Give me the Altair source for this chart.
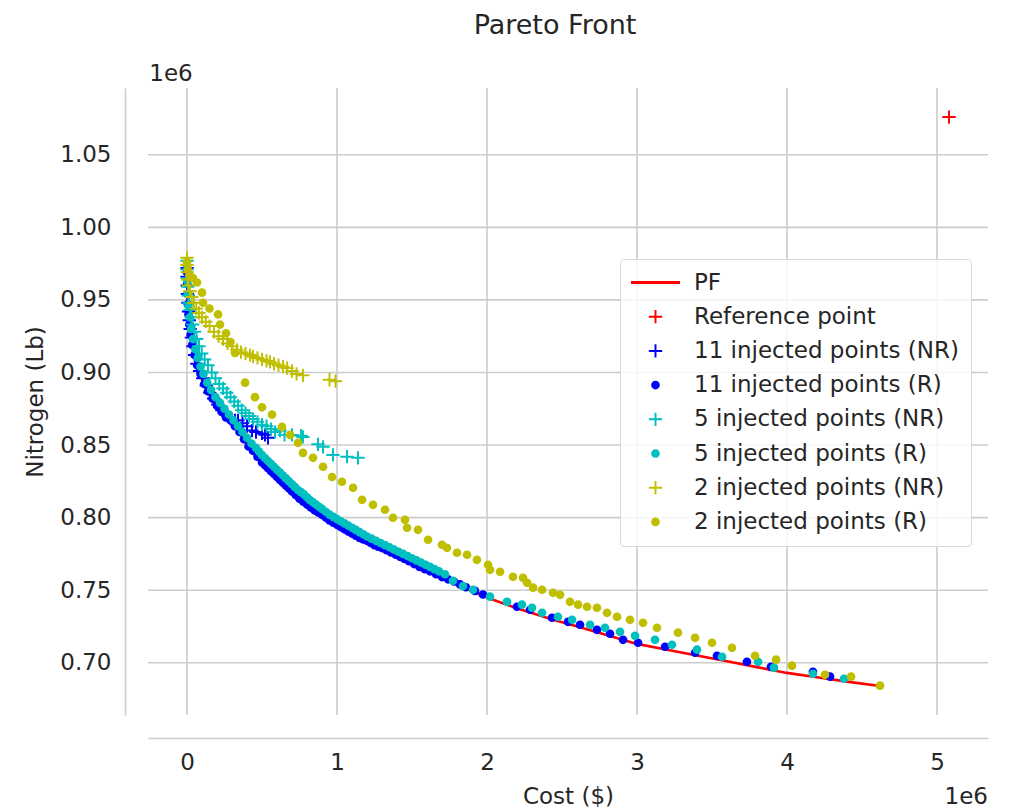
import altair as alt
import pandas as pd

# ---------------- data (cost in 1e6 $, nitrogen in 1e6 lb) ----------------
PF_COST = [0.0, 0.003, 0.01, 0.03, 0.06, 0.1, 0.15, 0.2, 0.3, 0.4, 0.5, 0.65, 0.75, 0.9, 1.0,
           1.1, 1.3, 1.5, 1.75, 2.0, 2.2, 2.43, 2.62, 2.82, 3.0, 3.2, 3.4, 3.6, 3.8, 4.0, 4.2, 4.4, 4.62]
PF_N = [0.967, 0.954, 0.939, 0.921, 0.907, 0.895, 0.885, 0.877, 0.866, 0.850, 0.838, 0.823, 0.813, 0.802, 0.795,
        0.789, 0.779, 0.768, 0.756, 0.745, 0.7375, 0.730, 0.7245, 0.7185, 0.713, 0.709, 0.705, 0.701, 0.697, 0.693,
        0.690, 0.687, 0.684]

REF_COST = [5.08]
REF_N = [1.076]

NR11_COST = [0.0, 0.0, 0.001, 0.003, 0.006, 0.01, 0.015, 0.021, 0.029, 0.039, 0.051, 0.066, 0.084, 0.105, 0.128,
             0.152, 0.178, 0.205, 0.232, 0.26, 0.29, 0.32, 0.34, 0.37, 0.4, 0.433, 0.46, 0.5, 0.52, 0.54]
NR11_N = [0.972, 0.966, 0.96, 0.954, 0.948, 0.942, 0.936, 0.93, 0.924, 0.918, 0.912, 0.906, 0.901, 0.896, 0.891,
          0.886, 0.882, 0.878, 0.874, 0.871, 0.868, 0.867, 0.867, 0.865, 0.863, 0.86, 0.859, 0.858, 0.857, 0.855]

R11_COST = [0.0, 0.001, 0.003, 0.006, 0.01, 0.016, 0.024, 0.035, 0.05, 0.068, 0.09, 0.115, 0.14, 0.17, 0.2, 0.23,
            0.26, 0.29, 0.32, 0.35, 0.38, 0.41, 0.44, 0.47, 0.5, 0.52, 0.54, 0.56, 0.58, 0.6, 0.62, 0.64, 0.66,
            0.68, 0.7, 0.725, 0.75, 0.775, 0.8, 0.825, 0.85, 0.875, 0.9, 0.925, 0.95, 0.975, 1.0, 1.025, 1.05,
            1.075, 1.1, 1.125, 1.15, 1.175, 1.2, 1.225, 1.25, 1.275, 1.3, 1.33, 1.36, 1.39, 1.42, 1.45, 1.48, 1.515,
            1.55, 1.585, 1.62, 1.66, 1.7, 1.74, 1.78, 1.82, 1.86, 1.92, 1.973, 2.2, 2.287, 2.433, 2.54, 2.62, 2.733,
            2.82, 2.907, 3.007, 3.187, 3.387, 3.533, 3.733, 3.893, 4.173, 4.287]
R11_N = [0.969, 0.961, 0.954, 0.947, 0.94, 0.933, 0.926, 0.919, 0.912, 0.905, 0.899, 0.892, 0.887, 0.882, 0.877,
         0.873, 0.869, 0.867, 0.863, 0.859, 0.854, 0.849, 0.846, 0.842, 0.838, 0.836, 0.834, 0.832, 0.83, 0.828,
         0.826, 0.824, 0.822, 0.82, 0.818, 0.8155, 0.813, 0.811, 0.809, 0.807, 0.805, 0.8035, 0.802, 0.800, 0.798,
         0.7965, 0.795, 0.7935, 0.792, 0.7905, 0.789, 0.7875, 0.786, 0.785, 0.784, 0.7825, 0.781, 0.780, 0.779,
         0.7775, 0.776, 0.7745, 0.773, 0.7715, 0.770, 0.768, 0.766, 0.7645, 0.763, 0.761, 0.759, 0.7575, 0.756,
         0.754, 0.752, 0.7495, 0.747, 0.7386, 0.7365, 0.731, 0.7282, 0.7262, 0.7227, 0.72, 0.7158, 0.7138, 0.711,
         0.7069, 0.7048, 0.7007, 0.6972, 0.6938, 0.6904]

NR5_COST = [0.0, 0.0, 0.002, 0.005, 0.009, 0.014, 0.02, 0.028, 0.038, 0.05, 0.064, 0.08, 0.098, 0.118, 0.14, 0.165,
            0.19, 0.215, 0.24, 0.265, 0.29, 0.315, 0.34, 0.365, 0.39, 0.415, 0.44, 0.47, 0.5, 0.53, 0.56, 0.587,
            0.62, 0.65, 0.7, 0.76, 0.773, 0.873, 0.907, 0.973, 1.067, 1.14]
NR5_N = [0.977, 0.971, 0.965, 0.959, 0.953, 0.948, 0.943, 0.938, 0.933, 0.928, 0.923, 0.918, 0.913, 0.909, 0.905,
         0.9, 0.896, 0.892, 0.889, 0.886, 0.883, 0.88, 0.877, 0.874, 0.872, 0.87, 0.868, 0.866, 0.864, 0.863, 0.861,
         0.859, 0.86, 0.857, 0.857, 0.8565, 0.8556, 0.8505, 0.8488, 0.8432, 0.842, 0.8412]

R5_COST = [0.0, 0.002, 0.005, 0.01, 0.018, 0.028, 0.04, 0.055, 0.072, 0.09, 0.11, 0.135, 0.16, 0.19, 0.22, 0.25,
           0.28, 0.31, 0.34, 0.37, 0.4, 0.43, 0.46, 0.48, 0.5, 0.52, 0.54, 0.56, 0.58, 0.6, 0.62, 0.64, 0.66, 0.68,
           0.7, 0.72, 0.74, 0.76, 0.78, 0.8, 0.82, 0.84, 0.86, 0.88, 0.9, 0.925, 0.95, 0.975, 1.0, 1.025, 1.05,
           1.075, 1.1, 1.125, 1.15, 1.175, 1.2, 1.23, 1.26, 1.29, 1.32, 1.35, 1.38, 1.41, 1.44, 1.47, 1.5, 1.53,
           1.56, 1.59, 1.62, 1.65, 1.68, 1.72, 1.773, 1.84, 1.907, 2.02, 2.133, 2.233, 2.3, 2.367, 2.473, 2.567,
           2.687, 2.787, 2.887, 2.987, 3.12, 3.233, 3.4, 3.567, 3.807, 3.913, 4.173, 4.38]
R5_N = [0.974, 0.963, 0.954, 0.946, 0.938, 0.93, 0.923, 0.916, 0.91, 0.904, 0.899, 0.893, 0.888, 0.883, 0.879,
        0.875, 0.871, 0.867, 0.863, 0.859, 0.855, 0.851, 0.848, 0.8455, 0.843, 0.841, 0.839, 0.837, 0.835, 0.833,
        0.831, 0.829, 0.827, 0.825, 0.823, 0.821, 0.819, 0.8175, 0.816, 0.814, 0.812, 0.8105, 0.809, 0.8075, 0.806,
        0.804, 0.802, 0.8005, 0.799, 0.7975, 0.796, 0.7945, 0.793, 0.7915, 0.790, 0.7885, 0.787, 0.7855, 0.784,
        0.7825, 0.781, 0.7795, 0.778, 0.7765, 0.775, 0.7735, 0.772, 0.7705, 0.769, 0.7675, 0.766, 0.7645, 0.763,
        0.761, 0.7565, 0.7528, 0.7503, 0.7455, 0.742, 0.740, 0.7379, 0.7344, 0.7317, 0.7296, 0.7262, 0.7241,
        0.7213, 0.7186, 0.7158, 0.7124, 0.709, 0.7041, 0.7007, 0.6966, 0.6924, 0.689]

NR2_COST = [0.0, 0.0, 0.002, 0.005, 0.01, 0.02, 0.032, 0.046, 0.062, 0.08, 0.1, 0.125, 0.15, 0.18, 0.21, 0.24,
            0.27, 0.3, 0.333, 0.36, 0.39, 0.42, 0.44, 0.47, 0.5, 0.53, 0.553, 0.58, 0.61, 0.64, 0.667, 0.7, 0.73,
            0.773, 0.95, 0.99]
NR2_N = [0.979, 0.974, 0.969, 0.964, 0.96, 0.956, 0.952, 0.948, 0.944, 0.941, 0.938, 0.935, 0.932, 0.928, 0.925,
         0.923, 0.92, 0.918, 0.9156, 0.914, 0.913, 0.912, 0.911, 0.91, 0.909, 0.908, 0.9073, 0.906, 0.905, 0.904,
         0.903, 0.901, 0.899, 0.898, 0.895, 0.894]

R2_COST = [0.0, 0.005, 0.015, 0.04, 0.067, 0.1, 0.107, 0.15, 0.207, 0.22, 0.26, 0.29, 0.32, 0.387, 0.453, 0.5,
           0.567, 0.633, 0.687, 0.74, 0.773, 0.84, 0.907, 0.967, 1.033, 1.107, 1.167, 1.24, 1.32, 1.373, 1.453,
           1.467, 1.54, 1.607, 1.7, 1.733, 1.8, 1.867, 1.933, 2.007, 2.02, 2.087, 2.173, 2.24, 2.267, 2.307, 2.367,
           2.44, 2.487, 2.553, 2.607, 2.667, 2.733, 2.8, 2.867, 2.953, 3.04, 3.133, 3.273, 3.387, 3.5, 3.633, 3.787,
           3.927, 4.033, 4.253, 4.427, 4.62]
R2_N = [0.976, 0.971, 0.967, 0.965, 0.962, 0.955, 0.948, 0.944, 0.94, 0.933, 0.927, 0.921, 0.9135, 0.893, 0.883,
        0.876, 0.871, 0.8625, 0.857, 0.8515, 0.8446, 0.8412, 0.835, 0.828, 0.8247, 0.8205, 0.8123, 0.8088, 0.8054,
        0.7999, 0.7985, 0.793, 0.7916, 0.7847, 0.7813, 0.7792, 0.7758, 0.7744, 0.7709, 0.7675, 0.764, 0.7627,
        0.7592, 0.7585, 0.7551, 0.7517, 0.7503, 0.7482, 0.7468, 0.742, 0.740, 0.7386, 0.7379, 0.7344, 0.7317,
        0.7296, 0.7275, 0.7241, 0.7207, 0.7172, 0.7138, 0.7103, 0.7048, 0.7021, 0.698, 0.6917, 0.6904, 0.6842]

SERIES = ["PF", "Reference point", "11 injected points (NR)", "11 injected points (R)",
          "5 injected points (NR)", "5 injected points (R)", "2 injected points (NR)", "2 injected points (R)"]
COLORS = ["#ff0000", "#ff0000", "#0000ff", "#0000ff", "#00bfbf", "#00bfbf", "#bfbf00", "#bfbf00"]

X_TICKS = [0, 1, 2, 3, 4, 5]
Y_TICKS = [0.70, 0.75, 0.80, 0.85, 0.90, 0.95, 1.00, 1.05]
X_DOMAIN = [-0.26, 5.34]
Y_DOMAIN = [0.664, 1.096]

# ---------------- marker shapes ----------------
PLUS = ("M-0.95,-0.14L-0.14,-0.14L-0.14,-0.95L0.14,-0.95L0.14,-0.14L0.95,-0.14L0.95,0.14"
        "L0.14,0.14L0.14,0.95L-0.14,0.95L-0.14,0.14L-0.95,0.14Z")
DOT = "M0.62,0A0.62,0.62 0 1,1 -0.62,0A0.62,0.62 0 1,1 0.62,0Z"
LINE = "M-3.5,-0.2L3.5,-0.2L3.5,0.2L-3.5,0.2Z"
SHAPES = [LINE, PLUS, PLUS, DOT, PLUS, DOT, PLUS, DOT]

FONT = "DejaVu Sans"
TXT = "#262626"
GRID = "#cccccc"


def frame(cost, nitro, name):
    return pd.DataFrame({"cost": cost, "nitrogen": nitro, "series": name})


points = pd.concat([
    frame(REF_COST, REF_N, SERIES[1]),
    frame(NR11_COST, NR11_N, SERIES[2]),
    frame(R11_COST, R11_N, SERIES[3]),
    frame(NR5_COST, NR5_N, SERIES[4]),
    frame(R5_COST, R5_N, SERIES[5]),
    frame(NR2_COST, NR2_N, SERIES[6]),
    frame(R2_COST, R2_N, SERIES[7]),
], ignore_index=True)
pf = pd.DataFrame({"cost": PF_COST, "nitrogen": PF_N})

xs = alt.Scale(domain=X_DOMAIN, nice=False, zero=False)
ys = alt.Scale(domain=Y_DOMAIN, nice=False, zero=False)

axis_common = dict(grid=False, ticks=False, domain=True, domainColor=GRID, domainWidth=1.6, offset=23,
                   labelFontSize=23, labelFont=FONT, labelColor=TXT, titleFontSize=23, titleFont=FONT,
                   titleColor=TXT, titleFontWeight="normal", labelOverlap=False, labelFlush=False)
X_AXIS = alt.Axis(title="Cost ($)", values=X_TICKS, format="d", labelPadding=13, titlePadding=11, **axis_common)
Y_AXIS = alt.Axis(title="Nitrogen (Lb)", values=Y_TICKS, format=".2f", labelPadding=14, titlePadding=12,
                  **axis_common)

grid_x = alt.Chart(pd.DataFrame({"cost": X_TICKS})).mark_rule(color=GRID, strokeWidth=1.6).encode(
    x=alt.X("cost:Q", scale=xs, axis=X_AXIS))
grid_y = alt.Chart(pd.DataFrame({"nitrogen": Y_TICKS})).mark_rule(color=GRID, strokeWidth=1.6).encode(
    y=alt.Y("nitrogen:Q", scale=ys, axis=Y_AXIS))

pf_line = alt.Chart(pf).mark_line(color="#ff0000", strokeWidth=2.6).encode(
    x=alt.X("cost:Q", scale=xs, axis=X_AXIS),
    y=alt.Y("nitrogen:Q", scale=ys, axis=Y_AXIS),
)

leg = alt.Legend(title=None, orient="none", legendX=472, legendY=171, labelFontSize=23, labelFont=FONT,
                 labelColor=TXT, labelLimit=400, symbolSize=196, symbolStrokeWidth=0, rowPadding=10.2,
                 padding=12, symbolOffset=12, labelOffset=27, strokeColor="#d9d9d9",
                 fillColor="rgba(255,255,255,0.8)", cornerRadius=4)

pts = alt.Chart(points).mark_point(filled=True, size=196, opacity=1, strokeWidth=0).encode(
    x=alt.X("cost:Q", scale=xs, axis=X_AXIS),
    y=alt.Y("nitrogen:Q", scale=ys, axis=Y_AXIS),
    color=alt.Color("series:N", scale=alt.Scale(domain=SERIES, range=COLORS), legend=leg),
    shape=alt.Shape("series:N", scale=alt.Scale(domain=SERIES, range=SHAPES), legend=leg),
)

exp_top = alt.Chart(pd.DataFrame({"t": ["1e6"]})).mark_text(
    fontSize=23, font=FONT, color=TXT, align="center", baseline="middle").encode(
    x=alt.value(23), y=alt.value(-14), text="t:N")
exp_bottom = alt.Chart(pd.DataFrame({"t": ["1e6"]})).mark_text(
    fontSize=23, font=FONT, color=TXT, align="right", baseline="middle").encode(
    x=alt.value(840), y=alt.value(709), text="t:N")

chart = alt.layer(grid_x, grid_y, pf_line, pts, exp_top, exp_bottom).properties(
    width=840, height=627,
    background="white",
    title=alt.TitleParams(text="Pareto Front", fontSize=27, font=FONT, fontWeight="normal", color=TXT,
                          anchor="middle", dx=-13, offset=23),
    autosize=alt.AutoSizeParams(type="none"),
    padding={"left": 140, "top": 80, "right": 16, "bottom": 94},
).configure_view(stroke=None)

chart.save("out.html", embed_options={"renderer": "svg", "actions": False})
